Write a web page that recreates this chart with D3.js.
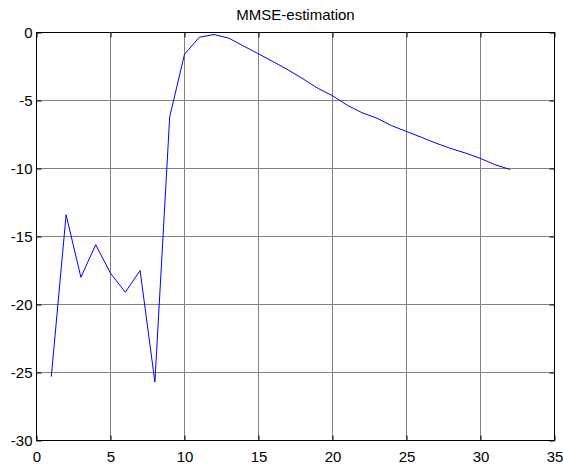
<!DOCTYPE html>
<html><head><meta charset="utf-8">
<script src="https://cdn.jsdelivr.net/npm/d3@7"></script>
<style>body{margin:0;background:#fff}svg{display:block}text{font-family:"Liberation Sans",Arial,sans-serif}</style>
</head><body>
<script>
const title = "MMSE-estimation";
const xValues = [1,2,3,4,5,6,7,8,9,10,11,12,13,14,15,16,17,18,19,20,21,22,23,24,25,26,27,28,29,30,31,32];
const yValues = [-25.3,-13.4,-18.0,-15.6,-17.7,-19.1,-17.5,-25.7,-6.2,-1.6,-0.35,-0.15,-0.42,-1.0,-1.57,-2.15,-2.75,-3.4,-4.1,-4.65,-5.35,-5.9,-6.3,-6.85,-7.28,-7.7,-8.14,-8.53,-8.87,-9.26,-9.73,-10.07];
const xTicks = [0,5,10,15,20,25,30,35];
const yTicks = [-30,-25,-20,-15,-10,-5,0];

const W = 563, H = 465;
const m = {left:36.5, right:554.5, top:32.5, bottom:440.5};
const svg = d3.select("body").append("svg").attr("width",W).attr("height",H);
const x = d3.scaleLinear().domain([0,35]).range([m.left,m.right]);
const y = d3.scaleLinear().domain([-30,0]).range([m.bottom,m.top]);
const fmt = d => String(d);

// grid
svg.append("g").selectAll("line").data(xTicks.slice(1,-1)).join("line")
  .attr("x1",d=>x(d)).attr("x2",d=>x(d)).attr("y1",m.top).attr("y2",m.bottom)
  .attr("stroke","#7f7f7f").attr("stroke-width",1);
svg.append("g").selectAll("line").data(yTicks.slice(1,-1)).join("line")
  .attr("y1",d=>y(d)).attr("y2",d=>y(d)).attr("x1",m.left).attr("x2",m.right)
  .attr("stroke","#7f7f7f").attr("stroke-width",1);

// axes (ticks inward)
const tl = 5;
svg.append("g").attr("transform",`translate(0,${m.bottom})`)
  .call(d3.axisBottom(x).tickValues(xTicks).tickFormat(fmt).tickSizeInner(-tl).tickSizeOuter(0).tickPadding(11))
  .call(g=>g.select(".domain").remove());
svg.append("g").attr("transform",`translate(0,${m.top})`)
  .call(d3.axisTop(x).tickValues(xTicks).tickSizeInner(-tl).tickSizeOuter(0).tickFormat(""))
  .call(g=>g.select(".domain").remove());
svg.append("g").attr("transform",`translate(${m.left},0)`)
  .call(d3.axisLeft(y).tickValues(yTicks).tickFormat(fmt).tickSizeInner(-tl).tickSizeOuter(0).tickPadding(4))
  .call(g=>g.select(".domain").remove());
svg.append("g").attr("transform",`translate(${m.right},0)`)
  .call(d3.axisRight(y).tickValues(yTicks).tickSizeInner(-tl).tickSizeOuter(0).tickFormat(""))
  .call(g=>g.select(".domain").remove());
svg.selectAll(".tick text").attr("font-size",15).attr("fill","#000").style("font-family",'"Liberation Sans",Arial,sans-serif');
svg.selectAll(".tick line").attr("stroke","#000");

svg.append("rect").attr("x",m.left).attr("y",m.top).attr("width",m.right-m.left).attr("height",m.bottom-m.top)
  .attr("fill","none").attr("stroke","#000").attr("stroke-width",1);

// line
const line = d3.line().x((d,i)=>x(xValues[i])).y(d=>y(d));
svg.append("path").datum(yValues).attr("d",line).attr("fill","none").attr("stroke","#0000ff").attr("stroke-width",1);

svg.append("text").attr("x",(m.left+m.right)/2).attr("y",20).attr("text-anchor","middle")
  .attr("font-size",15).text(title);
</script>
</body></html>
